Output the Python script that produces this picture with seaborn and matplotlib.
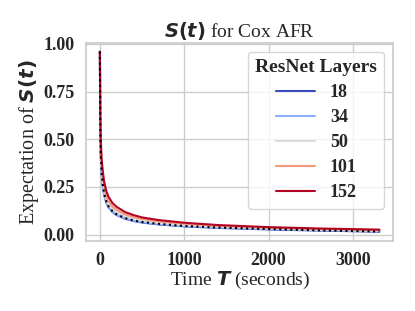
import numpy as np
import pandas as pd
import matplotlib
matplotlib.use("Agg")
import matplotlib.pyplot as plt
import seaborn as sns

# Dados (tempo em segundos, S(t) médio por modelo)
tempo = [0, 5, 10, 20, 35, 50, 75, 100, 150, 200, 300, 400, 500, 700,
         1000, 1400, 2000, 2600, 3315]
camadas = ["18", "34", "50", "101", "152"]
s_18 = [0.96, 0.55, 0.42, 0.32, 0.25, 0.21, 0.17, 0.145, 0.118, 0.102, 0.083,
        0.071, 0.063, 0.053, 0.043, 0.035, 0.027, 0.021, 0.015]
s_34 = [0.96, 0.55, 0.42, 0.32, 0.25, 0.21, 0.172, 0.147, 0.12, 0.104, 0.085,
        0.073, 0.065, 0.055, 0.045, 0.037, 0.029, 0.023, 0.017]
s_50 = [0.96, 0.58, 0.45, 0.35, 0.28, 0.235, 0.19, 0.165, 0.135, 0.117, 0.096,
        0.083, 0.074, 0.062, 0.051, 0.042, 0.033, 0.026, 0.02]
s_101 = [0.96, 0.60, 0.47, 0.37, 0.30, 0.255, 0.205, 0.178, 0.148, 0.129, 0.106,
         0.092, 0.082, 0.069, 0.057, 0.046, 0.036, 0.029, 0.023]
s_152 = [0.96, 0.62, 0.50, 0.40, 0.33, 0.28, 0.23, 0.20, 0.165, 0.145, 0.118,
         0.102, 0.090, 0.076, 0.062, 0.050, 0.039, 0.032, 0.026]
# linha pontilhada (referência)
s_ref = [0.96, 0.56, 0.43, 0.33, 0.26, 0.215, 0.175, 0.15, 0.122, 0.106, 0.086,
         0.074, 0.066, 0.056, 0.045, 0.037, 0.029, 0.022, 0.016]

series = [s_18, s_34, s_50, s_101, s_152]
df = pd.DataFrame({
    "tempo": np.tile(tempo, len(camadas)),
    "S": np.concatenate(series),
    "ResNet Layers": np.repeat(camadas, len(tempo)),
})

sns.set_theme(style="whitegrid")
plt.rcParams["font.family"] = ["Liberation Serif", "DejaVu Sans"]

cmap = plt.get_cmap("coolwarm")
cores = [cmap(v) for v in np.linspace(0, 1, 5)]

fig = plt.figure(figsize=(4.15, 3.11), dpi=100)
ax = fig.add_axes([0.207, 0.226, 0.741, 0.637])

sns.lineplot(data=df, x="tempo", y="S", hue="ResNet Layers", hue_order=camadas,
             palette=cores, linewidth=1.5, ax=ax)
ax.plot(tempo, s_ref, color="black", linestyle=":", linewidth=1.5)

ax.set_title(r"$\boldsymbol{S(t)}$ for Cox AFR", fontsize=14, pad=4)
ax.set_xlabel(r"Time $\boldsymbol{T}$ (seconds)", fontsize=14, labelpad=1)
ax.set_ylabel(r"Expectation of $\boldsymbol{S(t)}$", fontsize=14.5, labelpad=2)
ax.set_xticks([0, 1000, 2000, 3000])
ax.set_yticks([0.0, 0.25, 0.5, 0.75, 1.0])
ax.set_yticklabels(["0.00", "0.25", "0.50", "0.75", "1.00"])
for lbl in ax.get_xticklabels() + ax.get_yticklabels():
    lbl.set_fontweight("bold")
    lbl.set_fontsize(13)
ax.tick_params(axis="both", pad=2)

leg = ax.legend(title="ResNet Layers", loc="upper right", fontsize=13,
                title_fontsize=14, handlelength=2.2, handletextpad=0.8,
                labelspacing=0.45)
leg.get_title().set_fontweight("bold")
for t in leg.get_texts():
    t.set_fontweight("bold")

fig.savefig("out.png", dpi=100)
